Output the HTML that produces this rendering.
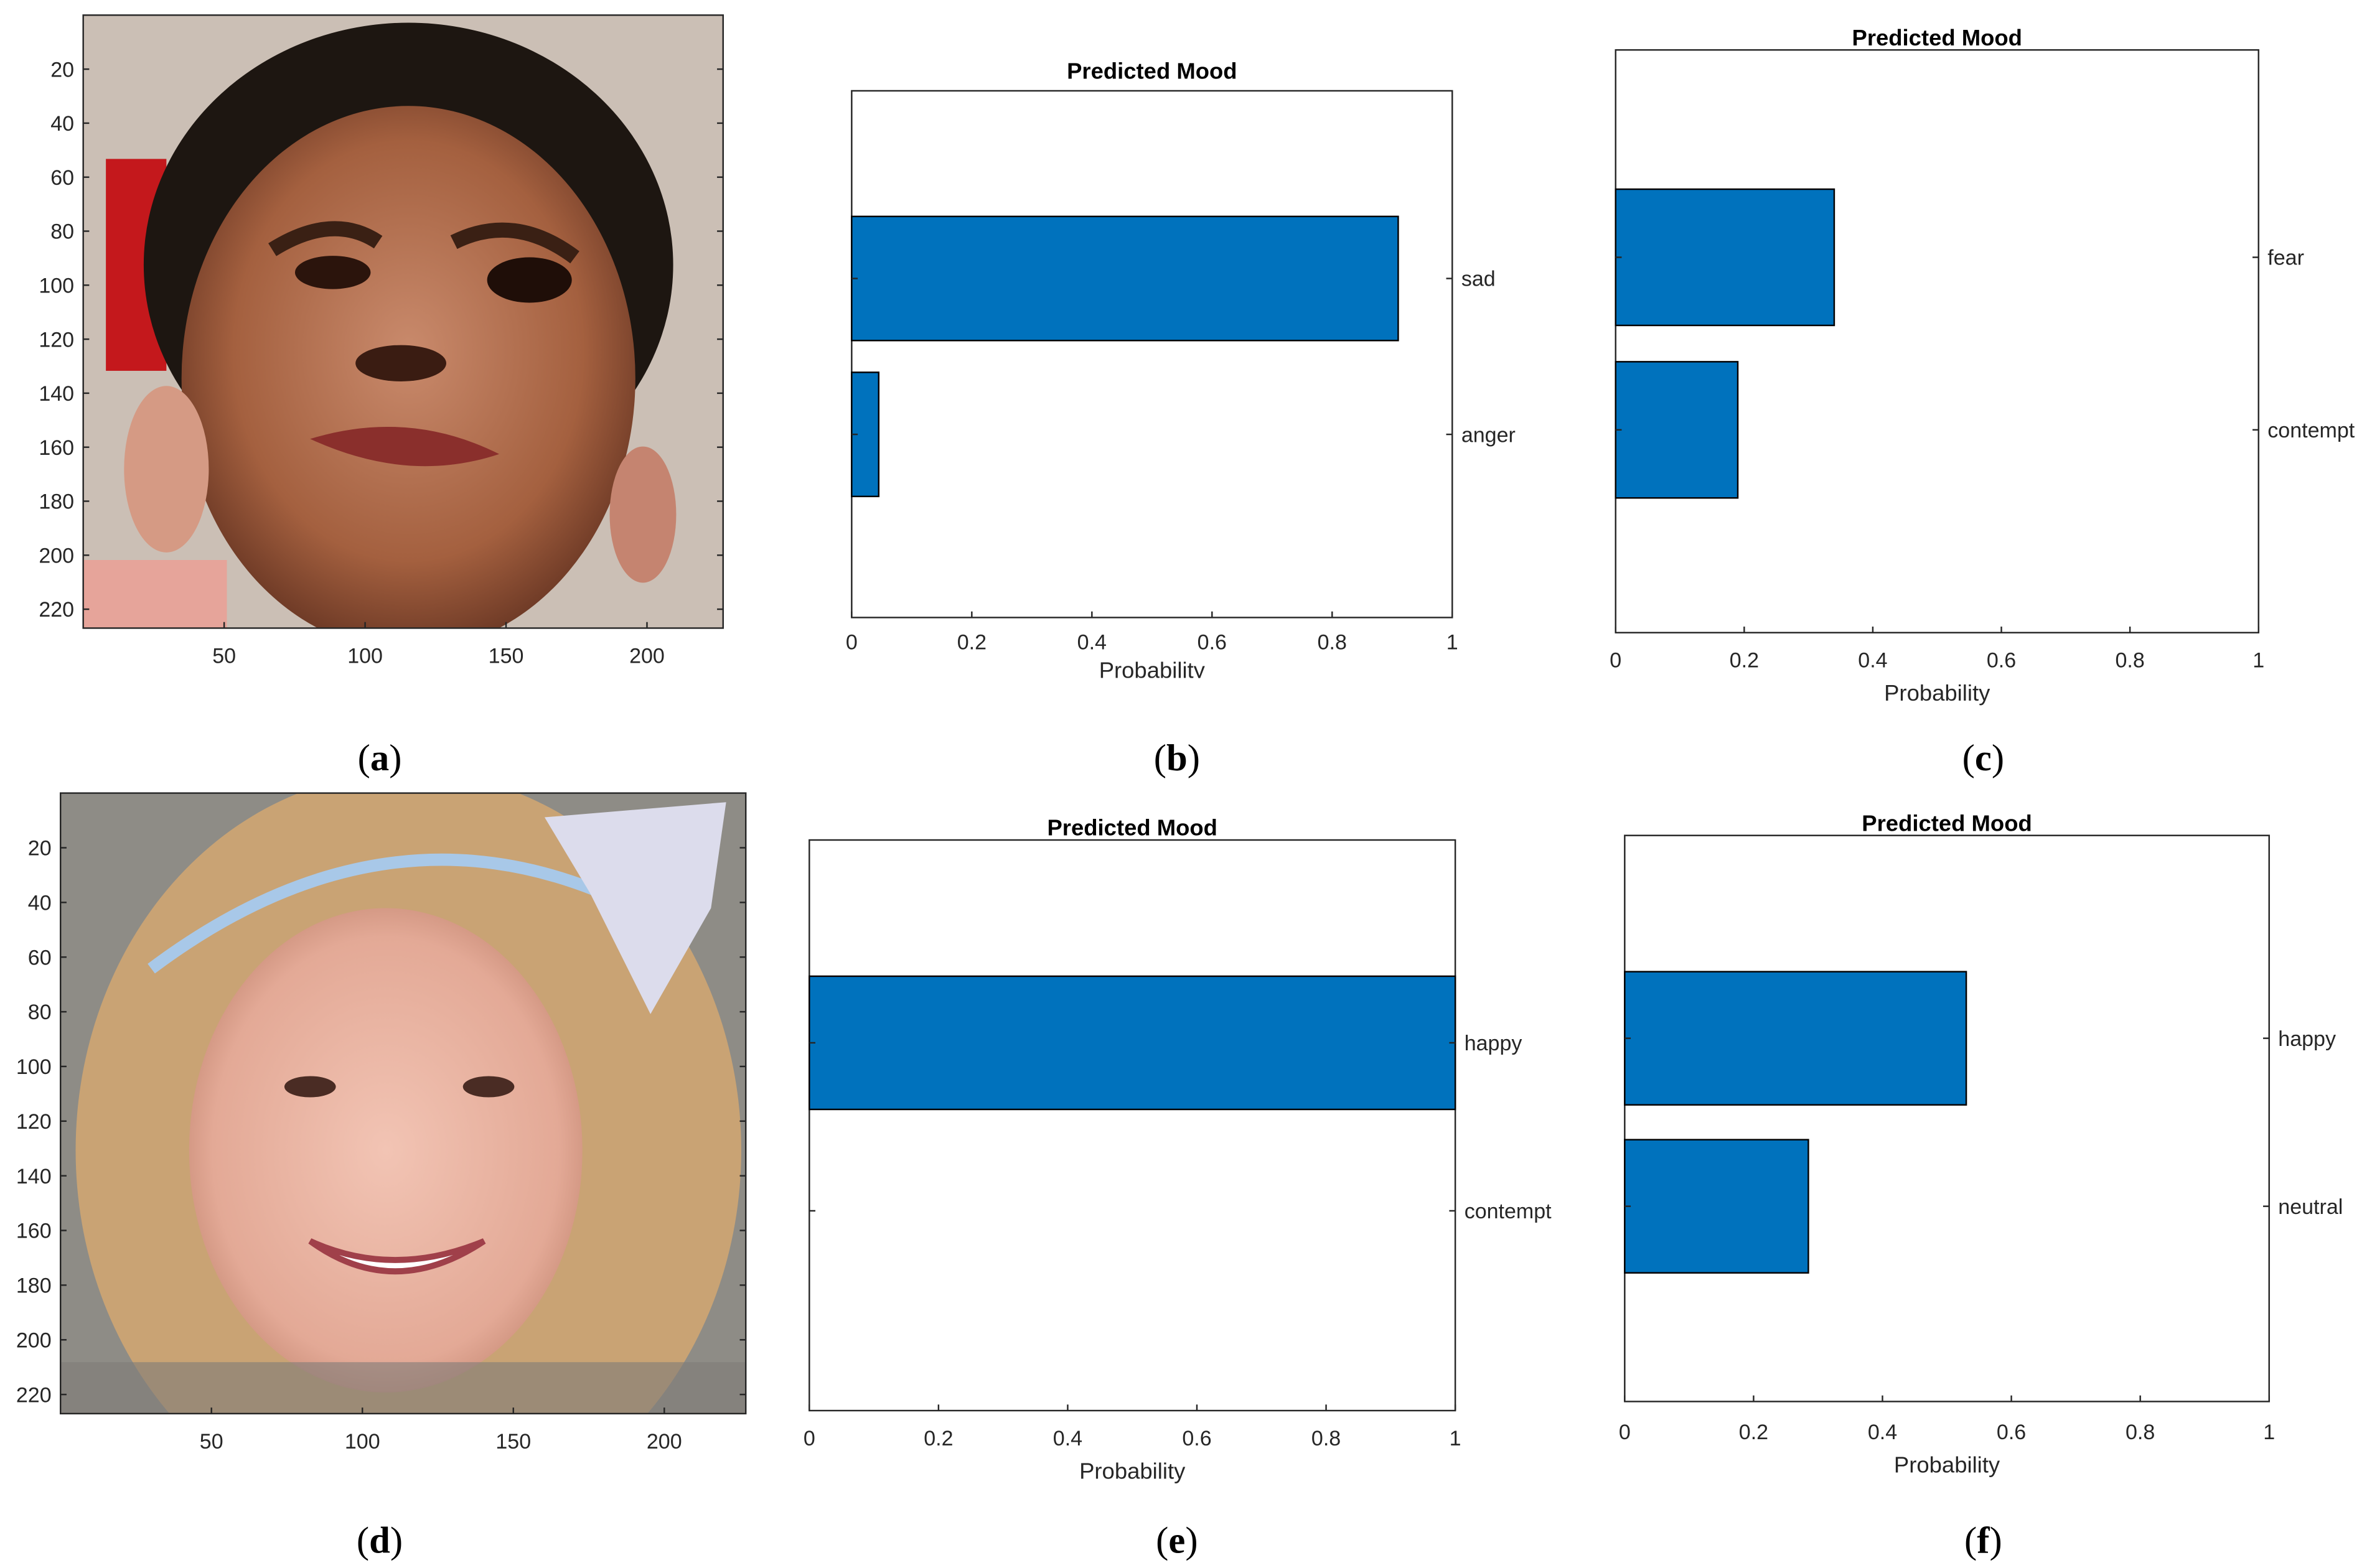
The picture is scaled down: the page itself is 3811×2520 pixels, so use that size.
<!DOCTYPE html>
<html><head><meta charset="utf-8"><style>
html,body{margin:0;padding:0;background:#fff}
svg{display:block}
text{font-family:"Liberation Sans",sans-serif}
.cap{font-family:"Liberation Serif",serif;font-size:25px}
</style></head><body>
<svg id="fig" width="3811" height="2520" viewBox="0 0 1568 1036" preserveAspectRatio="none" xmlns="http://www.w3.org/2000/svg">
<defs>
<radialGradient id="skinA" cx="0.5" cy="0.45" r="0.55"><stop offset="0" stop-color="#c98a6c"/><stop offset="0.7" stop-color="#a4603f"/><stop offset="1" stop-color="#6e3a26"/></radialGradient>
<radialGradient id="skinD" cx="0.5" cy="0.5" r="0.55"><stop offset="0" stop-color="#f2c4b4"/><stop offset="0.8" stop-color="#e3a996"/><stop offset="1" stop-color="#c98d78"/></radialGradient>
<clipPath id="clipA"><rect x="55" y="10" width="423" height="405"/></clipPath>
<clipPath id="clipD"><rect x="40" y="524" width="453" height="410"/></clipPath>
</defs>

<!-- Panel a image -->
<g clip-path="url(#clipA)">
<rect x="55" y="10" width="423" height="405" fill="#cbbfb5"/>
<rect x="70" y="105" width="40" height="140" fill="#c4181c"/>
<ellipse cx="270" cy="175" rx="175" ry="160" fill="#1d1611"/>
<ellipse cx="270" cy="250" rx="150" ry="180" fill="url(#skinA)"/>
<ellipse cx="110" cy="310" rx="28" ry="55" fill="#d59a84"/>
<ellipse cx="425" cy="340" rx="22" ry="45" fill="#c58470"/>
<path d="M180 165 Q220 140 250 160" stroke="#3a2014" stroke-width="10" fill="none"/>
<path d="M300 160 Q340 140 380 170" stroke="#3a2014" stroke-width="10" fill="none"/>
<ellipse cx="220" cy="180" rx="25" ry="11" fill="#2b140c"/>
<ellipse cx="350" cy="185" rx="28" ry="15" fill="#1f0e08"/>
<path d="M205 290 Q270 270 330 300 Q270 320 205 290Z" fill="#8a2f2c"/>
<ellipse cx="265" cy="240" rx="30" ry="12" fill="#3a1c12"/>
<rect x="55" y="370" width="95" height="45" fill="#e6a49a"/>
</g>
<rect x="55" y="10" width="423" height="405" fill="none" stroke="#262626" stroke-width="1"/>
<g id="axA"></g>

<!-- Panel d image -->
<g clip-path="url(#clipD)">
<rect x="40" y="524" width="453" height="410" fill="#8e8c86"/>
<ellipse cx="270" cy="760" rx="220" ry="250" fill="#c9a374"/>
<path d="M100 640 Q260 520 420 600" stroke="#a8c8e8" stroke-width="8" fill="none"/>
<path d="M360 540 L480 530 L470 600 L430 670 L390 590Z" fill="#dcdcec"/>
<ellipse cx="255" cy="760" rx="130" ry="160" fill="url(#skinD)"/>
<ellipse cx="205" cy="718" rx="17" ry="7" fill="#4a2c24"/>
<ellipse cx="323" cy="718" rx="17" ry="7" fill="#4a2c24"/>
<path d="M205 820 Q260 860 320 820 Q260 845 205 820Z" fill="#fff" stroke="#a0404a" stroke-width="4"/>
<rect x="40" y="900" width="453" height="34" fill="#7e7c78" opacity="0.6"/>
</g>
<rect x="40" y="524" width="453" height="410" fill="none" stroke="#262626" stroke-width="1"/>
<g id="axD"></g>

<g id="charts"></g>

<text class="cap" x="251" y="509" text-anchor="middle">(<tspan font-weight="bold">a</tspan>)</text>
<text class="cap" x="778" y="509" text-anchor="middle">(<tspan font-weight="bold">b</tspan>)</text>
<text class="cap" x="1311" y="509" text-anchor="middle">(<tspan font-weight="bold">c</tspan>)</text>
<text class="cap" x="251" y="1026" text-anchor="middle">(<tspan font-weight="bold">d</tspan>)</text>
<text class="cap" x="778" y="1026" text-anchor="middle">(<tspan font-weight="bold">e</tspan>)</text>
<text class="cap" x="1311" y="1026" text-anchor="middle">(<tspan font-weight="bold">f</tspan>)</text>
</svg>
<script>
const NS="http://www.w3.org/2000/svg";
function mk(parent,tag,attrs,txt){const e=document.createElementNS(NS,tag);for(const k in attrs)e.setAttribute(k,attrs[k]);if(txt!==undefined)e.textContent=txt;parent.appendChild(e);return e;}

// image pixel tick labels
const imgYTicks=[20,40,60,80,100,120,140,160,180,200,220];
const imgXTicks=[50,100,150,200];

function imageAxes(g,x0,y0,w,h,size){
  const sx=w/size, sy=h/size;
  imgYTicks.forEach(v=>{
    const y=y0+v*sy;
    const t=mk(g,'line',{x1:x0,x2:x0+4,y1:y,y2:y,stroke:'#262626'});
    
    
    const t2=mk(g,'line',{x1:x0+w-4,x2:x0+w,y1:y,y2:y,stroke:'#262626'});
    
    
    const l=mk(g,'text',{x:x0-6,y:y+5,'text-anchor':'end','font-size':14,fill:'#262626'},String(v));
    
    
  });
  imgXTicks.forEach(v=>{
    const x=x0+v*sx;
    const t=mk(g,'line',{x1:x,x2:x,y1:y0+h,y2:y0+h-4,stroke:'#262626'});
    
    
    const l=mk(g,'text',{x:x,y:y0+h+23,'text-anchor':'middle','font-size':14,fill:'#262626'},String(v));
    
    
  });
}
imageAxes(document.getElementById('axA'),55,10,423,405,227);
imageAxes(document.getElementById('axD'),40,524,453,410,227);

// chart data
const xTicks=[0,0.2,0.4,0.6,0.8,1];
const xTickLabels=['0','0.2','0.4','0.6','0.8','1'];
const catsB=['anger','sad'];   const valsB=[0.045,0.91];
const catsC=['contempt','fear']; const valsC=[0.19,0.34];
const catsE=['contempt','happy']; const valsE=[0.0,1.0];
const catsF=['neutral','happy']; const valsF=[0.285,0.53];

const layouts=[
 {id:'b',cats:catsB,vals:valsB,x0:563,x1:960,y0:60,y1:408,c1:287,sp:103,bh:82,title:47,tickY:429,labY:448,showTitle:true},
 {id:'c',cats:catsC,vals:valsC,x0:1068,x1:1493,y0:33,y1:418,c1:284,sp:114,bh:90,title:25,tickY:441,labY:463,showTitle:true},
 {id:'e',cats:catsE,vals:valsE,x0:535,x1:962,y0:555,y1:932,c1:800,sp:111,bh:88,title:547,tickY:955,labY:977,showTitle:true},
 {id:'f',cats:catsF,vals:valsF,x0:1074,x1:1500,y0:552,y1:926,c1:797,sp:111,bh:88,title:544,tickY:951,labY:973,showTitle:true}
];

const root=document.getElementById('charts');
layouts.forEach(L=>{
  const g=mk(root,'g',{});
  
  
  if(L.id==='b'){const cp=mk(g,'clipPath',{id:'clipB'});mk(cp,'rect',{x:0,y:0,width:1568,height:448});}
  const xs=v=>L.x0+v*(L.x1-L.x0);
  const ys=k=>L.c1-k*L.sp;
  const box=mk(g,'rect',{x:L.x0,y:L.y0,width:L.x1-L.x0,height:L.y1-L.y0,fill:'#fff',stroke:'#262626','stroke-width':1});
  
  
  L.vals.forEach((v,k)=>{
    const yc=ys(k);
    const b=mk(g,'rect',{x:xs(0),y:yc-L.bh/2,width:Math.max(0,xs(v)-xs(0)),height:L.bh,fill:'#0072BD',stroke:'#000','stroke-width':1});
    
    
    const tk=mk(g,'line',{x1:L.x1,x2:L.x1-4,y1:yc,y2:yc,stroke:'#262626'});
    
    
    const tk2=mk(g,'line',{x1:L.x0,x2:L.x0+4,y1:yc,y2:yc,stroke:'#262626'});
    
    
    const lb=mk(g,'text',{x:L.x1+6,y:yc+5,'font-size':14,fill:'#262626'},L.cats[k]);
    
    
  });
  xTicks.forEach((v,i)=>{
    const x=xs(v);
    const t=mk(g,'line',{x1:x,x2:x,y1:L.y1,y2:L.y1-4,stroke:'#262626'});
    
    
    const l=mk(g,'text',{x:x,y:L.tickY,'text-anchor':'middle','font-size':14,fill:'#262626'},xTickLabels[i]);
    
    
  });
  const xl=mk(g,'text',{x:(L.x0+L.x1)/2,y:L.labY,'text-anchor':'middle','font-size':15,fill:'#262626'},'Probability');
  if(L.id==='b')xl.setAttribute('clip-path','url(#clipB)');
  
  
  const tt=mk(g,'text',{x:(L.x0+L.x1)/2,y:L.title+5,'text-anchor':'middle','font-size':15,'font-weight':'bold',fill:'#000'},'Predicted Mood');
  
  
});
</script>
</body></html>
